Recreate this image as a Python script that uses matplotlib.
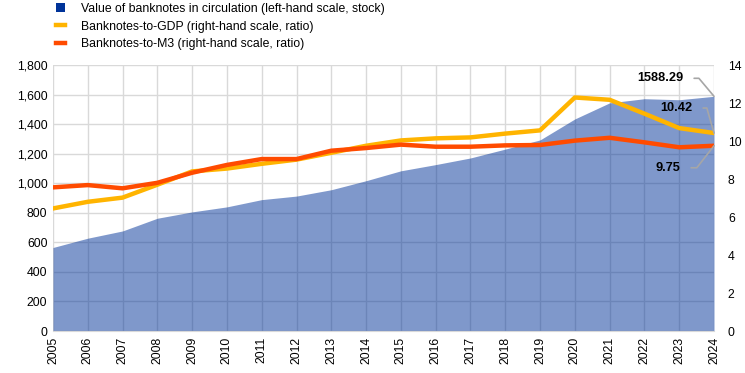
import matplotlib
matplotlib.use("Agg")
import matplotlib.pyplot as plt
from matplotlib.patches import Patch
from matplotlib.lines import Line2D

plt.rcParams['font.family'] = ['Liberation Sans', 'DejaVu Sans']

years = list(range(2005, 2025))
# value of banknotes in circulation (EUR bn, left-hand scale)
stock = [565, 628, 677, 763, 806, 840, 889, 913, 956, 1017,
         1084, 1126, 1171, 1231, 1293, 1435, 1544, 1572, 1565, 1588.29]
# ratios (right-hand scale)
to_gdp = [6.45, 6.8, 7.02, 7.7, 8.4, 8.55, 8.8, 9.02, 9.38, 9.75,
          10.03, 10.14, 10.19, 10.39, 10.56, 12.29, 12.17, 11.44, 10.68, 10.42]
to_m3 = [7.56, 7.68, 7.51, 7.8, 8.33, 8.74, 9.05, 9.05, 9.49, 9.63,
         9.81, 9.70, 9.70, 9.77, 9.79, 10.02, 10.17, 9.93, 9.67, 9.75]

legend_labels = ['Value of banknotes in circulation (left-hand scale, stock)',
                 'Banknotes-to-GDP (right-hand scale, ratio)',
                 'Banknotes-to-M3 (right-hand scale, ratio)']

blue = '#003399'
yellow = '#FFB400'
red = '#FF4B00'
grey = '#a6a6a6'
fs = 8.8

fig = plt.figure(figsize=(7.45, 3.73), dpi=100)
ax = fig.add_axes([0.0711, 0.1126, 0.8873, 0.7131])
ax2 = ax.twinx()

ax.set_axisbelow(True)
ax.grid(True, color='#d9d9d9', linewidth=1)
ax.fill_between(years, stock, 0, color=blue, alpha=0.5, linewidth=0)

ax2.plot(years, to_gdp, color=yellow, linewidth=3.2, solid_joinstyle='round')
ax2.plot(years, to_m3, color=red, linewidth=3.2, solid_joinstyle='round')

ax.set_xlim(years[0], years[-1])
ax.set_ylim(0, 1800)
ax2.set_ylim(0, 14)
ax.set_xticks(years)
ax.set_xticklabels([str(y) for y in years], rotation=90)
ax.set_yticks(range(0, 1801, 200))
ax.set_yticklabels([f'{v:,}' for v in range(0, 1801, 200)])
ax2.set_yticks(range(0, 15, 2))

for a in (ax, ax2):
    a.tick_params(length=0, labelsize=fs, pad=4)
    for s in a.spines.values():
        s.set_visible(False)
ax.spines['bottom'].set_visible(True)
ax.spines['bottom'].set_color('#d9d9d9')
ax2.tick_params(axis='y', pad=10)

# end-point labels
lead = dict(arrowstyle='-', color=grey, linewidth=1.2, shrinkA=6, shrinkB=0,
            relpos=(1, 0.5))
ax.annotate(f'{stock[-1]:.2f}', xy=(years[-1], stock[-1]), xytext=(-31, 18),
            textcoords='offset pixels', ha='right', va='center',
            fontsize=9.2, fontweight='bold',
            arrowprops=dict(lead, connectionstyle='angle,angleA=0,angleB=130,rad=0'))
ax2.annotate(f'{to_gdp[-1]:.2f}', xy=(years[-1], to_gdp[-1]), xytext=(-22, 25),
             textcoords='offset pixels', ha='right', va='center',
             fontsize=9.2, fontweight='bold',
             arrowprops=dict(lead, connectionstyle='angle,angleA=0,angleB=106,rad=0'))
ax2.annotate(f'{to_m3[-1]:.2f}', xy=(years[-1], to_m3[-1]), xytext=(-34, -22),
             textcoords='offset pixels', ha='right', va='center',
             fontsize=9.2, fontweight='bold',
             arrowprops=dict(lead, connectionstyle='angle,angleA=0,angleB=52,rad=0'))

handles = [Patch(facecolor=blue, edgecolor='none'),
           Line2D([], [], color=yellow, linewidth=3.2),
           Line2D([], [], color=red, linewidth=3.2)]
fig.legend(handles, legend_labels, loc='upper left', bbox_to_anchor=(0.068, 1.005),
           frameon=False, fontsize=fs, handlelength=0.8, handleheight=0.8,
           handletextpad=1.3, labelspacing=0.45, borderaxespad=0)

fig.savefig('out.png', dpi=100)
